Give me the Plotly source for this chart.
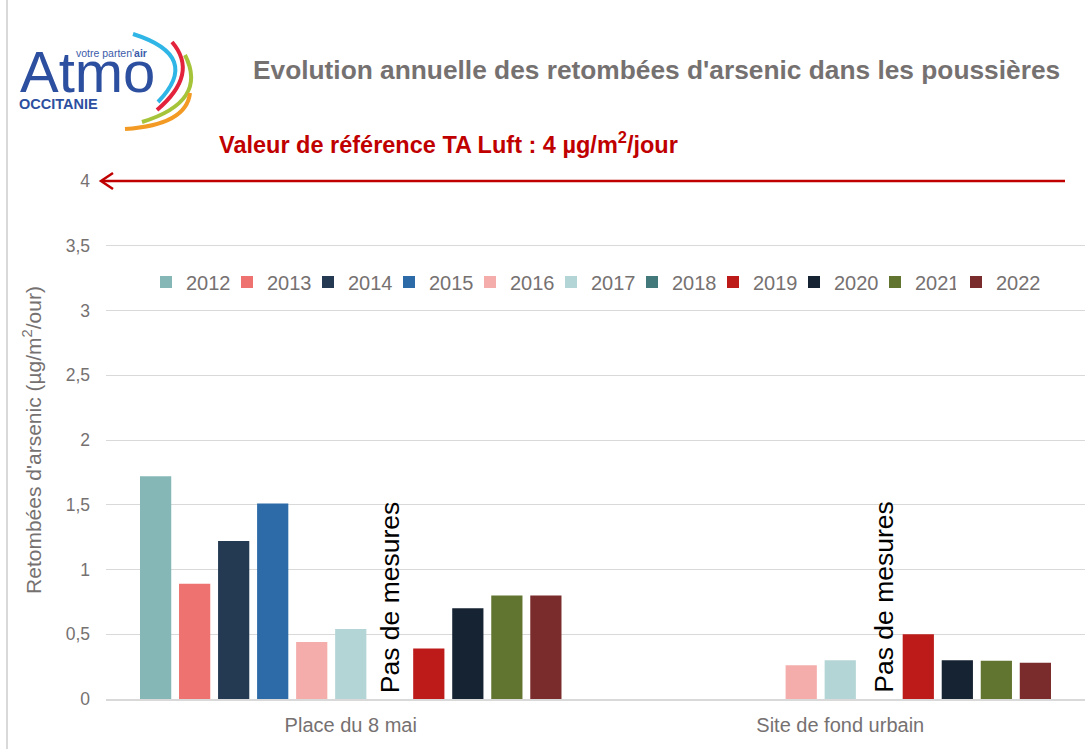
import plotly.graph_objects as go

categories = ["Place du 8 mai", "Site de fond urbain"]
years = ["2012", "2013", "2014", "2015", "2016", "2017", "2018", "2019", "2020", "2021", "2022"]
v2012 = [1.72, None]
v2013 = [0.89, None]
v2014 = [1.22, None]
v2015 = [1.51, None]
v2016 = [0.44, 0.26]
v2017 = [0.54, 0.30]
v2018 = [None, None]
v2019 = [0.39, 0.50]
v2020 = [0.70, 0.30]
v2021 = [0.80, 0.295]
v2022 = [0.80, 0.28]
series = [v2012, v2013, v2014, v2015, v2016, v2017, v2018, v2019, v2020, v2021, v2022]
colors = ["#85b7b7", "#ee7370", "#243a52", "#2c6ba7", "#f5adab", "#b4d5d5",
          "#43797a", "#bd1a1a", "#162332", "#627530", "#7a2b2b"]
ytick_vals = [0, 0.5, 1, 1.5, 2, 2.5, 3, 3.5, 4]
reference_value = 4

SANS = "Liberation Sans, Arial, sans-serif"
GREY = "#767171"

W, H = 1088, 749
L, R, T, B = 106, 1085, 181, 699
LEG_LEFT, LEG_STEP = 146, 81


def px_x(px):
    return (px - L) / (R - L)


def px_y(py):
    return (B - py) / (B - T)


fig = go.Figure()
n = len(years)
for i, (yr, vals, col) in enumerate(zip(years, series, colors)):
    # last entry gets its own legend box so its label is not clipped
    fig.add_trace(go.Bar(name=yr, x=categories, y=vals, marker_color=col,
                         marker_line_width=0,
                         legend="legend2" if i == n - 1 else "legend"))

ref_y = reference_value / 4.0  # paper fraction of the reference value (axis range 0..4)
shapes = []
shapes.append(dict(type="line", xref="paper", yref="paper", x0=px_x(102), x1=px_x(1065),
                   y0=ref_y, y1=ref_y, line=dict(color="#c00000", width=2.5)))
shapes.append(dict(type="path", xref="paper", yref="paper", xsizemode="pixel", ysizemode="pixel",
                   xanchor=px_x(101), yanchor=ref_y,
                   path="M 12,8 L 0,0 L 12,-8", line=dict(color="#c00000", width=2.5)))
shapes.append(dict(type="line", xref="paper", yref="paper", x0=px_x(7), x1=px_x(7),
                   y0=px_y(0), y1=px_y(749), line=dict(color="#d9d9d9", width=2)))


def arc(p0, pm, p2, color):
    cx = 2 * pm[0] - 0.5 * (p0[0] + p2[0])
    cy = 2 * pm[1] - 0.5 * (p0[1] + p2[1])

    def o(p):
        return f"{p[0] - L:.1f},{T - p[1]:.1f}"
    path = f"M {o(p0)} Q {o((cx, cy))} {o(p2)}"
    return dict(type="path", xref="paper", yref="paper", xsizemode="pixel", ysizemode="pixel",
                xanchor=0, yanchor=1, path=path, line=dict(color=color, width=4))


shapes.append(arc((133, 34), (174, 62), (158, 102), "#2fb6e6"))
shapes.append(arc((172, 42), (182, 75), (157, 110), "#e3223c"))
shapes.append(arc((185, 55), (186, 95), (142, 122), "#a6c43a"))
shapes.append(arc((190, 93), (172, 118), (125, 129), "#f29a23"))

annotations = []
annotations.append(dict(text="Evolution annuelle des retombées d'arsenic dans les poussières",
                        xref="paper", yref="paper", x=px_x(656), y=px_y(70),
                        xanchor="center", yanchor="middle", showarrow=False,
                        font=dict(family=SANS, size=26.3, color=GREY, weight="bold")))
annotations.append(dict(text="Valeur de référence TA Luft : 4 µg/m<sup>2</sup>/jour",
                        xref="paper", yref="paper", x=px_x(217), y=px_y(143),
                        xanchor="left", yanchor="middle", showarrow=False,
                        font=dict(family=SANS, size=23.5, color="#c00000", weight="bold")))
for cat, shift in zip(categories, [40, 44]):
    annotations.append(dict(text="Pas de mesures", xref="x", yref="y", x=cat, y=0.784,
                            xshift=shift, textangle=-90, showarrow=False,
                            xanchor="center", yanchor="middle",
                            font=dict(family=SANS, size=26.5, color="#000000")))
annotations.append(dict(text="Atmo", xref="paper", yref="paper", x=px_x(18), y=px_y(94),
                        xanchor="left", yanchor="bottom", showarrow=False,
                        font=dict(family=SANS, size=58, color="#2d4f9f"), yshift=-12))
annotations.append(dict(text="votre parten'<b>air</b>", xref="paper", yref="paper",
                        x=px_x(74), y=px_y(53), xanchor="left", yanchor="middle",
                        showarrow=False, font=dict(family=SANS, size=10.5, color="#3b5ba9")))
annotations.append(dict(text="<b>OCCITANIE</b>", xref="paper", yref="paper",
                        x=px_x(17), y=px_y(104), xanchor="left", yanchor="middle",
                        showarrow=False, font=dict(family=SANS, size=14.5, color="#2d4f9f")))

legend_common = dict(orientation="h", xanchor="left", y=px_y(282), yanchor="middle",
                     font=dict(family=SANS, size=20, color=GREY), bgcolor="rgba(0,0,0,0)",
                     traceorder="normal", itemclick=False, itemdoubleclick=False)

fig.update_layout(
    width=W, height=H,
    margin=dict(l=L, r=W - R, t=T, b=H - B, autoexpand=False),
    paper_bgcolor="white", plot_bgcolor="white",
    barmode="group", bargap=0.123, bargroupgap=0.2,
    separators=", ",
    showlegend=True,
    legend=dict(x=px_x(LEG_LEFT), entrywidth=36, **legend_common),
    legend2=dict(x=px_x(LEG_LEFT + (n - 1) * LEG_STEP), **legend_common),
    shapes=shapes, annotations=annotations,
    xaxis=dict(showgrid=False, showline=True, linecolor="#d9d9d9", linewidth=1.5,
               ticks="", tickfont=dict(family=SANS, size=20, color=GREY),
               ticklabelstandoff=7, fixedrange=True),
    yaxis=dict(range=[0, 4], tickvals=ytick_vals, showgrid=True, gridcolor="#d9d9d9",
               gridwidth=1, zeroline=False, showline=False, ticks="", fixedrange=True,
               tickfont=dict(family=SANS, size=17.5, color=GREY), ticklabelstandoff=15,
               title=dict(text="Retombées d'arsenic (µg/m<sup>2</sup>/our)",
                          font=dict(family=SANS, size=21, color=GREY), standoff=18)),
)

fig.write_html("out.html", config={"displayModeBar": False},
               post_script="document.body.style.margin='0px';")
